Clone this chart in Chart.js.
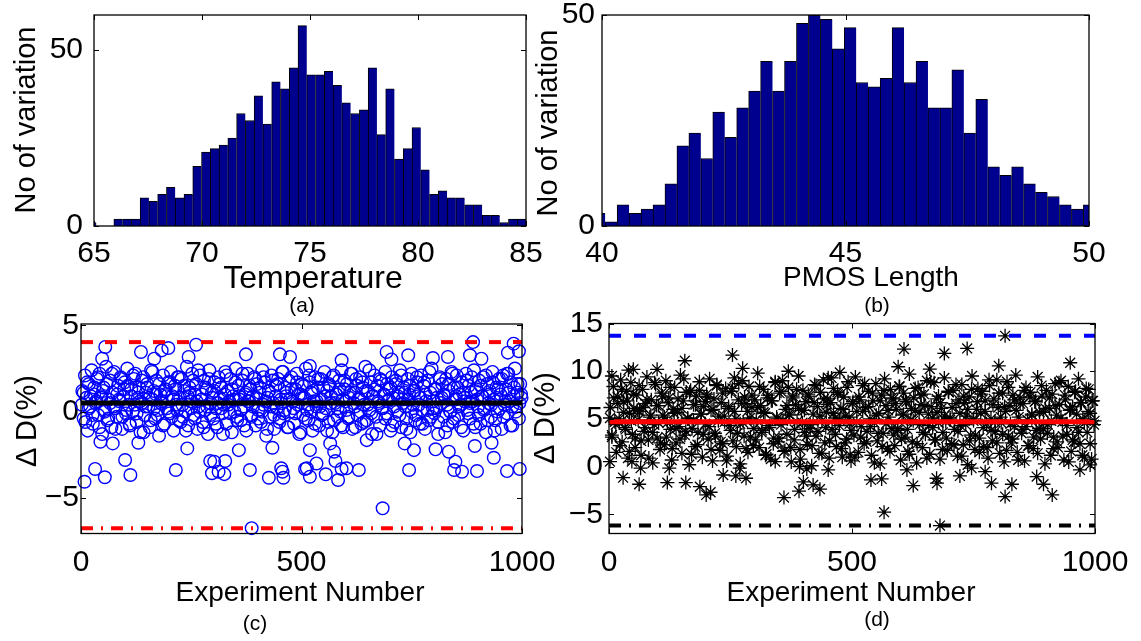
<!DOCTYPE html>
<html>
<head>
<meta charset="utf-8">
<script src="https://cdn.jsdelivr.net/npm/chart.js@4.4.1/dist/chart.umd.min.js"></script>
<style>
  body { margin: 0; background: #fff; }
  #fig { position: relative; width: 1141px; height: 641px; overflow: hidden;
         font-family: "Liberation Sans", Arial, sans-serif; }
  #fig canvas { position: absolute; }
  .lbl { position: absolute; white-space: nowrap; line-height: 1; color: #000;
         transform: translate(-50%, -50%); z-index: 5; }
  .lbl.rot { transform: translate(-50%, -50%) rotate(-90deg); }
</style>
</head>
<body>
<div id="fig"></div>
<script>
const FONT = '"Liberation Sans", Arial, sans-serif';

// (a) temperature histogram, 50 bins
const tempRange = [64.7, 85.0];
const tempCounts = [1, 0, 0, 2, 2, 2, 8, 7, 9, 11, 8, 9, 17, 21, 22, 23, 25, 32, 30, 37,
                    29, 41, 39, 45, 57, 43, 43, 44, 40, 35, 32, 33, 45, 26, 39, 19, 22, 28, 16, 9,
                    10, 8, 8, 6, 6, 3, 3, 1, 2, 2];
const tempXTicks = [65, 70, 75, 80, 85];
const tempYTicks = [0, 50];

// (b) PMOS length histogram, 42 bins
const pmosRange = [39.82, 50.13];
const pmosCounts = [3, 1, 5, 3, 4, 5, 10, 19, 22, 16, 27, 21, 28, 32, 39, 32, 39, 48, 50, 49,
                    42, 47, 34, 33, 35, 47, 34, 39, 28, 28, 37, 22, 30, 14, 12, 14, 10, 8, 7, 5,
                    4, 5];
const pmosXTicks = [40, 45, 50];
const pmosYTicks = [0, 50];

// (c) / (d) experiments: two interleaved samples of the main cloud, plus stragglers
const expRange = [0, 1000];
const expXTicks = [0, 500, 1000];
const cloudA = { step: 3, first: 3 };   // experiments 3, 6, 9 ...
const cloudB = { step: 4, first: 2 };   // experiments 2, 6, 10 ...

const cCloudA = [
  1.2, -0.4, 2.1, 0.8, -1.1, 1.6, 0.3, 2.4, -0.7, 1.0, 0.5, 1.9, -0.2, 2.2, 0.9, -1.3, 1.4, 0.1, 2.6, -0.5,
  0.7, 1.8, -0.9, 1.1, 2.3, 0.2, -0.3, 1.5, 0.6, 2.0, -1.0, 0.9, 1.7, -0.1, 2.5, 0.4, -0.8, 1.3, 0.0, 1.9,
  2.2, -0.6, 0.8, 1.4, -1.2, 0.5, 2.0, -0.2, 1.1, 1.6, 0.3, -0.9, 2.4, 0.7, 1.2, -0.4, 1.8, 0.1, -1.4, 1.0,
  0.6, 2.1, -0.7, 1.3, 0.2, 1.7, -0.1, 2.3, 0.9, -1.1, 1.5, 0.4, 2.0, -0.5, 0.8, 1.9, -0.3, 1.2, 0.0, 2.6,
  -0.8, 1.4, 0.6, 2.2, -0.2, 1.0, 1.6, -1.0, 0.3, 2.1, 0.7, -0.6, 1.8, 0.1, 1.3, -1.3, 2.4, 0.5, 1.1, -0.4,
  1.7, 0.2, -0.9, 2.0, 0.8, 1.4, -0.1, 0.4, 2.3, -0.7, 1.2, 0.6, 1.9, -1.2, 0.9, 0.0, 2.5, -0.3, 1.5, 0.7,
  -0.5, 1.8, 0.3, 1.0, -1.1, 2.2, 0.6, 1.3, -0.2, 0.9, 2.0, -0.8, 1.6, 0.1, 1.1, -0.6, 2.4, 0.4, 1.7, -1.4,
  0.8, 1.2, -0.3, 2.1, 0.5, -1.0, 1.5, 0.2, 1.9, -0.4, 0.7, 2.3, -0.1, 1.4, 0.9, -0.9, 1.8, 0.0, 2.0, 0.6,
  -0.7, 1.3, 2.2, 0.4, -1.3, 1.0, 1.6, -0.2, 0.8, 2.5, 0.1, -0.5, 1.7, 1.1, -1.1, 0.6, 2.0, 0.3, 1.4, -0.8,
  1.9, 0.7, -0.1, 2.3, 0.2, 1.2, -0.6, 1.5, 0.9, -1.2, 2.1, 0.5, 1.0, -0.3, 1.8, 0.0, 2.4, -0.9, 1.3, 0.6,
  1.6, -0.4, 0.8, 2.2, -1.0, 1.1, 0.3, 1.9, -0.2, 0.7, 2.0, -0.7, 1.4, 0.4, 2.6, -0.5, 1.2, 0.1, 1.7, -1.3,
  0.9, 2.1, -0.3, 1.5, 0.5, -0.8, 1.8, 0.2, 1.0, 2.3, -0.1, 0.6, 1.3, -1.1, 2.0, 0.8, -0.6, 1.6, 0.0, 1.1,
  2.4, -0.9, 0.7, 1.4, 0.3, -0.4, 1.9, 1.0, -1.2, 2.2, 0.4, 1.2, -0.2, 1.7, 0.9, -0.7, 2.1, 0.1, 1.5, -1.0,
  0.6, 1.8, -0.5, 1.1, 2.5, 0.2, -0.1, 1.3, 0.8, -1.3, 2.0, 0.5, 1.6, -0.3, 0.9, 1.9, -0.8, 1.2, 0.0, 2.3,
  -0.6, 1.4, 0.7, 2.1, -0.2, 1.0, 0.4, 1.7, -1.1, 0.8, 2.2, 0.1, 1.5, -0.4, 1.1, 0.6, 2.4, -0.9, 1.3, 0.3,
  1.8, -0.7, 0.9, 2.0, 0.2, -1.2, 1.6, 0.5, 1.2, -0.3, 2.3, 0.7, -0.5, 1.4, 0.0, 1.9, 1.0, -1.0, 2.1, 0.4,
  1.3, -0.1, 2.2, 0.6, 1.7, -0.8, 0.9, 2.5, 0.3, 1.1, -0.4, 1.6, 0.8
];
const cCloudB = [
  0.4, 1.1, -0.6, 1.7, 0.2, 0.9, -0.2, 1.4, 0.6, 2.0, -0.9, 0.8, 1.2, 0.0, 1.6, -0.4, 0.5, 2.2, 0.3, -1.0, 1.0, 0.7, 1.9, -0.3, 1.3,
  0.1, 1.5, -0.7, 0.9, 2.1, 0.4, -0.1, 1.1, 0.6, 1.8, -1.2, 0.3, 1.4, 0.8, -0.5, 2.3, 0.2, 1.0, -0.2, 1.6, 0.5, -0.8, 1.2, 0.9, 0.0,
  1.7, -0.3, 0.7, 1.3, 0.1, 2.0, -0.6, 0.4, 1.5, -1.1, 0.9, 1.1, 0.2, 1.8, -0.4, 0.6, 2.4, 0.0, 1.0, -0.9, 1.4, 0.3, 1.9, -0.2, 0.8,
  1.2, -0.7, 0.5, 1.6, 0.2, -1.3, 1.0, 2.1, 0.4, -0.1, 1.3, 0.7, 1.7, -0.5, 0.9, 0.1, 2.2, -0.8, 1.1, 0.6, 1.5, -0.3, 0.3, 1.9, 0.8,
  -0.4, 1.4, 0.0, 2.0, 0.6, -1.0, 1.2, 0.3, 1.8, -0.2, 0.9, 1.6, -0.6, 0.5, 2.3, 0.1, 1.1, -0.9, 0.7, 1.3, 0.2, -0.1, 1.7, 1.0, -1.2,
  0.8, 1.5, -0.4, 0.4, 2.1, 0.0, 1.2, -0.7, 0.6, 1.9, 0.3, -0.2, 1.4, 0.9, -1.1, 1.6, 0.5, 2.0, -0.5, 1.0, 0.2, 1.3, -0.8, 0.7, 1.8,
  0.1, -0.3, 1.1, 2.2, 0.5, -0.9, 1.5, 0.8, 0.0, 1.7, -0.6, 1.2, 0.4, 2.4, -0.1, 0.9, 1.3, -1.3, 0.6, 1.9, 0.2, 1.0, -0.4, 1.6, 0.7,
  1.4, -0.8, 0.3, 1.8, 0.9, -0.2, 2.1, 0.5, 1.1, -1.0, 0.7, 1.5, 0.0, 1.2, -0.5, 2.0, 0.4, 0.8, -0.7, 1.7, 1.0, 0.1, 2.3, -0.3, 0.6,
  1.3, 0.2, -0.6, 1.9, 0.8, 1.0, -1.2, 0.4, 1.6, 0.0, 2.2, -0.4, 0.9, 1.4, 0.3, -0.9, 1.1, 0.6, 1.8, -0.1, 0.5, 2.0, -0.7, 1.2, 0.7,
  -0.2, 1.5, 0.9, 0.1, 2.1, -0.5, 1.0, 0.4, 1.7, -1.1, 0.8, 1.3, 0.2, 1.9, -0.3, 0.6, 2.2, 1.1, -0.8, 0.3, 1.4, 0.0, 1.6, 0.5, 1.0
];
const cStrayX = [8, 32, 54, 100, 112, 215, 293, 302, 327, 297, 312, 325, 383, 387, 426, 454, 459, 457, 508, 358,
                 241, 44, 72, 130, 434, 55, 48, 136, 166, 183, 198, 261, 244, 374, 451, 474, 519, 512, 519, 534,
                 555, 565, 574, 577, 583, 591, 602, 630, 684, 744, 755, 804, 834, 849, 846, 864, 898, 893, 931, 936,
                 966, 995, 648, 734, 889, 981, 993, 968, 693, 704, 742, 798, 832, 882, 908, 591, 519];
const cStrayY = [-4.06, -3.32, -3.8, -2.8, -3.67, -3.38, -2.86, -2.9, -2.86, -3.57, -3.48, -3.62, -3.38, -6.75, -3.83, -3.28, -3.83, -3.48, -3.32, -2.23,
                 -2.13, -1.74, -1.84, -1.8, -2.09, 3.75, 3.07, 3.46, 3.07, 3.55, 3.69, 3.88, 3.17, 3.32, 3.32, 3.17, -2.23, -3.28, -3.77, -3.0,
                 -3.63, -1.84, -2.32, -2.86, -3.96, -3.32, -3.28, -3.38, -5.6, -3.38, -2.23, -2.18, -2.32, -2.9, -3.38, -3.48, -3.44, -1.99, -1.8, -2.67,
                 -3.44, -3.32, -1.65, -1.84, 4.03, 3.94, 3.5, 3.42, 3.46, 3.03, 3.27, 3.11, 3.17, 3.27, 3.07, 2.98, 2.65];
const cMean = 0.5;
const cUpper = 4.03;
const cLower = -6.75;
const cYRange = [-7.06, 5.08];
const cYTicks = [-5, 0, 5];

const dCloudA = [
  6.2, 3.1, 8.4, 4.7, 1.5, 7.3, 5.0, 9.1, 2.6, 6.8, 4.1, 7.9, 0.9, 5.6, 8.8, 3.4, 6.1, 2.0, 7.5, 4.9,
  5.8, 1.2, 8.1, 3.7, 6.6, 9.4, 2.8, 5.2, 7.0, 0.4, 4.4, 8.6, 3.0, 6.4, 1.8, 7.7, 5.4, 2.3, 9.0, 4.6,
  7.2, 3.9, 0.7, 6.0, 8.3, 2.5, 5.7, 4.2, 9.6, 1.4, 6.9, 3.3, 7.8, 5.1, 0.2, 8.0, 4.0, 6.5, 2.1, 7.4,
  3.6, 8.9, 5.5, 1.0, 6.3, 4.5, 7.6, 2.9, 9.2, 5.9, 0.6, 7.1, 3.2, 8.5, 4.8, 1.7, 6.7, 2.4, 5.3, 8.2,
  1.1, 6.1, 4.3, 7.9, 2.7, 9.3, 5.0, 3.5, 8.7, 0.3, 6.6, 4.6, 7.3, 1.9, 5.8, 8.4, 3.1, 6.2, 2.2, 7.0,
  4.9, 9.8, 2.0, 6.4, 3.8, 8.1, 5.6, 1.3, 7.5, 4.1, 0.8, 6.9, 3.0, 8.8, 5.2, 2.6, 7.7, 4.4, 9.0, 1.6,
  6.0, 3.4, 8.3, 5.4, 0.5, 7.2, 2.8, 6.5, 4.7, 9.5, 1.8, 5.9, 8.0, 3.6, 6.8, 2.3, 7.4, 4.0, 0.1, 5.5,
  8.6, 3.2, 6.3, 1.4, 7.8, 4.8, 9.1, 2.5, 5.7, 7.1, 0.9, 6.7, 3.9, 8.2, 5.1, 2.1, 7.6, 4.3, 6.1, 1.0,
  7.3, 5.3, 2.9, 8.9, 4.5, 0.6, 6.6, 3.3, 9.4, 5.8, 1.5, 7.0, 4.2, 8.5, 2.4, 6.2, 3.7, 7.9, 5.0, 1.2,
  6.9, 4.6, 8.7, 2.7, 5.6, 0.3, 7.5, 3.5, 9.2, 6.4, 1.9, 5.2, 8.1, 4.0, 7.1, 2.2, 6.0, 3.8, 8.4, 0.7,
  5.4, 7.7, 3.1, 6.8, 1.6, 9.7, 4.9, 2.6, 7.2, 5.9, 0.4, 8.3, 4.4, 6.5, 2.0, 7.6, 3.4, 9.0, 5.5, 1.3,
  6.3, 4.1, 8.8, 2.8, 5.7, 7.4, 0.8, 6.1, 3.6, 9.3, 4.7, 1.7, 7.8, 5.1, 2.4, 8.0, 3.9, 6.6, 1.1, 7.0,
  4.3, 8.6, 2.3, 6.7, 5.3, 0.2, 7.3, 3.3, 9.5, 4.8, 1.8, 6.0, 8.2, 3.0, 5.6, 7.9, 2.1, 6.9, 4.5, 0.9,
  8.5, 5.0, 2.7, 7.1, 3.7, 9.1, 6.2, 1.4, 4.6, 7.7, 0.5, 5.8, 8.9, 3.2, 6.4, 2.5, 7.5, 4.2, 9.6, 1.5,
  5.2, 7.2, 3.5, 6.6, 0.6, 8.3, 4.9, 2.2, 7.8, 5.5, 1.9, 6.8, 3.8, 9.4, 4.0, 2.9, 7.4, 5.7, 0.3, 8.0,
  4.4, 6.1, 1.2, 7.6, 3.1, 8.7, 5.4, 2.0, 6.5, 9.0, 4.7, 0.7, 7.0, 3.4, 8.4, 5.9, 1.6, 6.3, 2.6, 7.9,
  4.1, 9.2, 2.4, 6.7, 5.0, 1.0, 7.3, 3.6, 8.1, 5.6, 0.8, 6.9, 4.8
];
const dCloudB = [
  5.1, 3.3, 7.2, 4.4, 6.6, 2.2, 8.1, 5.7, 3.9, 6.9, 1.6, 4.8, 7.6, 3.0, 5.9, 8.5, 2.7, 6.2, 4.1, 7.0, 0.9, 5.4, 3.6, 8.8, 6.4,
  4.6, 2.5, 7.4, 5.2, 3.1, 6.7, 8.3, 1.9, 5.6, 4.0, 7.1, 2.9, 6.1, 9.2, 3.7, 5.0, 7.8, 1.3, 4.9, 6.5, 2.3, 8.0, 5.5, 3.4, 6.8,
  7.3, 4.2, 1.8, 6.0, 3.5, 8.6, 5.3, 2.6, 7.7, 4.7, 0.6, 6.3, 3.8, 8.2, 5.8, 2.1, 7.0, 4.5, 9.0, 3.2, 6.6, 1.5, 5.1, 7.5, 4.0,
  2.8, 6.2, 8.4, 3.6, 5.7, 1.2, 7.2, 4.3, 6.9, 2.4, 8.9, 5.0, 3.0, 7.9, 4.8, 1.7, 6.4, 5.5, 2.0, 7.4, 3.9, 8.1, 6.1, 0.8, 4.6,
  5.9, 3.2, 7.6, 4.4, 2.2, 6.7, 8.5, 3.7, 5.3, 1.4, 7.1, 4.1, 6.5, 2.7, 9.3, 5.6, 3.4, 7.8, 4.9, 1.9, 6.0, 2.5, 8.3, 5.2, 3.8,
  6.8, 1.0, 4.7, 7.3, 3.1, 5.8, 8.7, 2.6, 6.3, 4.2, 7.7, 0.4, 5.4, 3.5, 6.9, 2.1, 8.0, 4.5, 5.9, 1.6, 7.2, 3.3, 6.6, 4.0, 8.4,
  2.9, 5.5, 7.0, 3.9, 1.3, 6.1, 4.8, 8.2, 2.4, 5.7, 7.5, 3.6, 6.4, 0.9, 4.3, 8.9, 5.1, 2.8, 7.1, 4.6, 6.7, 1.8, 5.3, 3.0, 7.9,
  4.9, 6.2, 2.3, 8.6, 3.7, 5.6, 1.1, 7.4, 4.4, 6.0, 2.7, 8.1, 5.0, 3.3, 6.8, 1.5, 7.6, 4.1, 5.8, 2.0, 9.1, 3.8, 6.5, 4.7, 2.5,
  7.7, 5.2, 3.4, 6.3, 1.7, 8.3, 4.5, 2.9, 7.0, 5.9, 0.7, 6.6, 3.9, 8.0, 4.2, 2.2, 7.3, 5.4, 3.1, 6.9, 1.4, 5.7, 8.5, 4.0, 6.1,
  3.5, 7.2, 4.8, 1.9, 6.4, 2.6, 8.8, 5.1, 3.2, 7.5, 4.3, 0.5, 6.0, 2.8, 7.8, 5.5, 3.6, 6.7, 1.2, 4.6, 8.2, 5.8, 2.4, 6.9, 4.4
];
const dStrayX = [254, 156, 275, 40, 50, 99, 6, 369, 475, 451, 62, 29, 120, 158, 187, 200, 209, 235, 261, 282,
                 360, 391, 400, 420, 434, 392, 407, 342, 451, 65, 47, 2, 124, 269, 815, 607, 690, 737, 949, 595,
                 802, 660, 566, 681, 539, 561, 626, 675, 674, 722, 787, 815, 894, 912, 880, 829, 969, 990, 774, 746,
                 613, 496];
const dStrayY = [11.69, 11.1, 10.3, 10.12, 10.2, 10.2, 9.5, 10.0, 9.88, 9.32, -1.84, -1.15, -1.67, -1.67, -2.09, -2.96, -2.68, -0.87, -0.97, -1.21,
                 -3.24, -2.57, -1.6, -1.91, -2.36, 0.0, -0.24, 0.53, -0.34, -0.16, 0.53, 0.53, -0.16, -0.16, 13.71, 12.32, 11.87, 12.39, 10.89, 10.47,
                 10.57, 10.23, -4.77, -6.17, -1.39, -1.28, -1.98, -1.73, -1.21, -0.97, -1.73, -3.13, -1.84, -2.96, -1.04, -1.84, -0.34, 0.18, -0.52, -0.16,
                 -0.34, 1.23];
const dMean = 4.71;
const dUpper = 13.71;
const dLower = -6.17;
const dYRange = [-7, 15];
const dYTicks = [-5, 0, 5, 10, 15];


// centre of each histogram bin, from the binned range
function binCenters(range, n) {
    let w = (range[1] - range[0]) / n;
    let out = [];
    for (let i = 0; i < n; i++) out.push(range[0] + w * (i + 0.5));
    return out;
}

function tickText(v) {
    return v < 0 ? '\u2212' + Math.abs(v) : String(v);
}

// MATLAB-style box: full frame plus short inward ticks on all four sides
const frameTicks = {
    id: 'frameTicks',
    afterDatasetsDraw(chart) {
        const ctx = chart.ctx;
        const a = chart.chartArea;
        const xs = chart.scales.x, ys = chart.scales.y;
        const len = 5;
        ctx.save();
        ctx.strokeStyle = '#000';
        ctx.lineWidth = 1;
        ctx.beginPath();
        xs.ticks.forEach(t => {
            let p = Math.round(xs.getPixelForValue(t.value)) + 0.5;
            ctx.moveTo(p, a.bottom); ctx.lineTo(p, a.bottom - len);
            ctx.moveTo(p, a.top); ctx.lineTo(p, a.top + len);
        });
        ys.ticks.forEach(t => {
            let p = Math.round(ys.getPixelForValue(t.value)) + 0.5;
            ctx.moveTo(a.left, p); ctx.lineTo(a.left + len, p);
            ctx.moveTo(a.right, p); ctx.lineTo(a.right - len, p);
        });
        ctx.stroke();
        ctx.lineWidth = 1.3;
        ctx.strokeRect(a.left, a.top, a.right - a.left, a.bottom - a.top);
        ctx.restore();
    }
};

function axis(pos, min, max, ticks, size, pad) {
    return {
        type: 'linear',
        position: pos,
        min: min,
        max: max,
        offset: false,
        grid: { display: false, drawTicks: false },
        border: { display: false },
        ticks: {
            color: '#000',
            font: { family: FONT, size: 30 },
            padding: pad,
            autoSkip: false,
            maxRotation: 0,
            callback: tickText
        },
        afterBuildTicks: s => { s.ticks = ticks.map(v => ({ value: v })); },
        afterFit: s => {
            if (pos === 'bottom') s.height = size; else s.width = size;
            s.paddingLeft = 0; s.paddingRight = 0; s.paddingTop = 0; s.paddingBottom = 0;
        }
    };
}

// canvas rectangle + plot box in page pixels
function makeCanvas(cv) {
    let c = document.createElement('canvas');
    c.width = cv.w; c.height = cv.h;
    c.style.left = cv.left + 'px';
    c.style.top = cv.top + 'px';
    c.style.width = cv.w + 'px';
    c.style.height = cv.h + 'px';
    document.getElementById('fig').appendChild(c);
    return c;
}

function baseOptions(cv, box, xAxis, yAxis) {
    return {
        responsive: false,
        animation: false,
        devicePixelRatio: 1,
        events: [],
        layout: {
            autoPadding: false,
            padding: { left: 0, bottom: 0, top: box.top - cv.top, right: cv.left + cv.w - box.right }
        },
        plugins: { legend: { display: false }, tooltip: { enabled: false } },
        scales: { x: xAxis, y: yAxis }
    };
}

function histogram(cv, box, range, counts, xTicks, yMax, yTicks, yPad) {
    let centers = binCenters(range, counts.length);
    let xAxis = axis('bottom', xTicks[0], xTicks[xTicks.length - 1], xTicks, cv.top + cv.h - box.bottom, 10);
    let yAxis = axis('left', 0, yMax, yTicks, box.left - cv.left, yPad);
    new Chart(makeCanvas(cv), {
        type: 'bar',
        data: {
            datasets: [{
                data: centers.map((c, i) => ({ x: c, y: counts[i] })),
                backgroundColor: 'rgb(0,0,143)',
                borderColor: '#000',
                borderWidth: { top: 1, left: 1, right: 0, bottom: 0 },
                borderSkipped: false,
                barPercentage: 1,
                categoryPercentage: 1
            }]
        },
        options: baseOptions(cv, box, xAxis, yAxis),
        plugins: [frameTicks]
    });
}

function levelLine(v) {
    return [{ x: expRange[0], y: v }, { x: expRange[1], y: v }];
}

function cloudPoints(values, layout) {
    return values.map((v, i) => ({ x: layout.first + i * layout.step, y: v }));
}

function experiments(cv, box, cloudsA, cloudsB, strayX, strayY, yRange, yTicks, yPad, lines, marker) {
    let pts = cloudPoints(cloudsA, cloudA).concat(cloudPoints(cloudsB, cloudB));
    strayX.forEach((x, i) => pts.push({ x: x, y: strayY[i] }));
    let sets = lines.map(l => ({
        data: levelLine(l.value),
        showLine: true,
        borderColor: l.color,
        borderWidth: l.width,
        borderDash: l.dash,
        pointRadius: 0
    }));
    sets.push(Object.assign({ data: pts, showLine: false, clip: false }, marker));
    let xAxis = axis('bottom', expRange[0], expRange[1], expXTicks, cv.top + cv.h - box.bottom, 11);
    let yAxis = axis('left', yRange[0], yRange[1], yTicks, box.left - cv.left, yPad);
    new Chart(makeCanvas(cv), {
        type: 'scatter',
        data: { datasets: sets },
        options: baseOptions(cv, box, xAxis, yAxis),
        plugins: [frameTicks]
    });
}

histogram({ left: 0, top: 0, w: 560, h: 300 }, { left: 94, top: 15, right: 526, bottom: 226 },
          tempRange, tempCounts, tempXTicks, 60, tempYTicks, 11);

histogram({ left: 520, top: 0, w: 621, h: 300 }, { left: 602, top: 15, right: 1089, bottom: 226 },
          pmosRange, pmosCounts, pmosXTicks, 50, pmosYTicks, 7);

experiments({ left: 0, top: 300, w: 560, h: 341 }, { left: 81, top: 324, right: 522, bottom: 533.5 },
            cCloudA, cCloudB, cStrayX, cStrayY, cYRange, cYTicks, 2,
            [
                { value: cMean, color: '#000', width: 5, dash: [] },
                { value: cUpper, color: 'rgb(255,0,0)', width: 4, dash: [12, 12] },
                { value: cLower, color: 'rgb(255,0,0)', width: 4, dash: [12, 8, 2, 8] }
            ],
            { pointStyle: 'circle', pointRadius: 6.3, borderColor: 'rgb(0,0,255)',
              backgroundColor: 'rgba(0,0,0,0)', borderWidth: 1.4 });

experiments({ left: 540, top: 300, w: 601, h: 341 }, { left: 609, top: 323.5, right: 1095, bottom: 533.5 },
            dCloudA, dCloudB, dStrayX, dStrayY, dYRange, dYTicks, 6,
            [
                { value: dMean, color: 'rgb(255,0,0)', width: 5, dash: [] },
                { value: dUpper, color: 'rgb(0,0,255)', width: 4, dash: [12, 13] },
                { value: dLower, color: '#000', width: 4, dash: [12, 8, 2, 8] }
            ],
            { pointStyle: 'star', pointRadius: 7, borderColor: '#000',
              backgroundColor: '#000', borderWidth: 1.3 });

// axis titles and panel letters
const titles = [
    { t: 'No of variation', x: 25, y: 120, s: 29, rot: true },
    { t: 'No of variation', x: 547, y: 123, s: 29, rot: true },
    { t: 'Temperature', x: 313, y: 277, s: 32 },
    { t: 'PMOS Length', x: 871, y: 277, s: 28 },
    { t: '(a)', x: 302, y: 304, s: 21 },
    { t: '(b)', x: 877, y: 304, s: 21 },
    { t: '\u0394 D(%)', x: 26, y: 421, s: 29, rot: true },
    { t: '\u0394 D(%)', x: 544, y: 418, s: 29, rot: true },
    { t: 'Experiment Number', x: 300, y: 592, s: 28 },
    { t: 'Experiment Number', x: 851, y: 592, s: 28 },
    { t: '(c)', x: 255, y: 622, s: 21 },
    { t: '(d)', x: 877, y: 618, s: 21 }
];
titles.forEach(l => {
    let d = document.createElement('div');
    d.className = 'lbl' + (l.rot ? ' rot' : '');
    d.textContent = l.t;
    d.style.left = l.x + 'px';
    d.style.top = l.y + 'px';
    d.style.fontSize = l.s + 'px';
    document.getElementById('fig').appendChild(d);
});
</script>
</body>
</html>
